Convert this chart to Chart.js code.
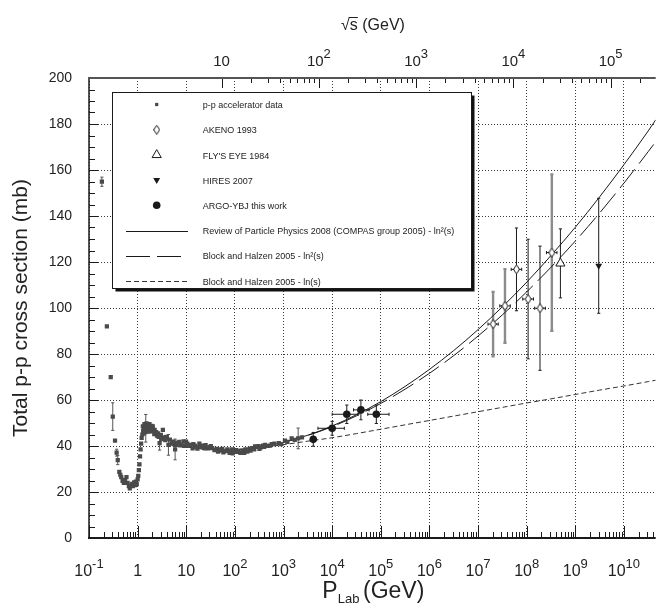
<!DOCTYPE html>
<html>
<head>
<meta charset="utf-8">
<script src="https://cdn.jsdelivr.net/npm/chart.js@4.4.1/dist/chart.umd.min.js"></script>
<style>
  html, body { margin: 0; padding: 0; background: #fff; }
  #wrap { width: 662px; height: 615px; }
</style>
</head>
<body>
<div id="wrap"><canvas id="xsec" width="662" height="615"></canvas></div>
<script>
const FONT = "'Liberation Sans', Arial, Helvetica, sans-serif";
const PROTON_MASS = 0.938;
const P_MAX = 4.5e10;

// bottom axis (P_Lab) decades and their labels [base, exponent]
const labDecades = [0.1, 1, 10, 1e2, 1e3, 1e4, 1e5, 1e6, 1e7, 1e8, 1e9, 1e10];
const labTickText = [["10", "-1"], ["1", ""], ["10", ""], ["10", "2"], ["10", "3"], ["10", "4"],
  ["10", "5"], ["10", "6"], ["10", "7"], ["10", "8"], ["10", "9"], ["10", "10"]];
// top axis (sqrt s) decades
const rootSDecades = [10, 1e2, 1e3, 1e4, 1e5];
const rootSTickText = [["10", ""], ["10", "2"], ["10", "3"], ["10", "4"], ["10", "5"]];

// p-p accelerator data [P_Lab GeV, sigma mb]
const accPoints = [
  [0.233, 92.0], [0.280, 69.9], [0.343, 42.3], [0.42, 28.8], [0.44, 27.5], [0.46, 26.5], [0.49, 24.8],
  [0.52, 24.0], [0.55, 25.3], [0.59, 26.5], [0.62, 24.0], [0.66, 22.5], [0.69, 21.6], [0.72, 22.8],
  [0.76, 23.5], [0.80, 22.6], [0.85, 24.2], [0.88, 23.0], [0.92, 24.5], [0.96, 23.4], [1.00, 25.5],
  [1.03, 27.0], [1.06, 29.5], [1.09, 32.0], [1.12, 35.5], [1.15, 38.5], [1.18, 41.0], [1.21, 43.5],
  [1.25, 45.0], [1.28, 48.5], [1.30, 46.5], [1.33, 45.5], [1.35, 47.5], [1.38, 49.5], [1.40, 48.0],
  [1.45, 46.0], [1.50, 48.5], [1.52, 49.8], [1.55, 47.0], [1.60, 48.2], [1.65, 46.2], [1.70, 47.5],
  [1.75, 49.5], [1.80, 48.0], [1.85, 46.4], [1.92, 48.7], [1.95, 47.5], [2.00, 47.0], [2.05, 48.5],
  [2.10, 46.5], [2.20, 45.2], [2.24, 47.0], [2.40, 46.0], [2.50, 44.5], [2.62, 45.5], [2.70, 44.0],
  [3.0, 44.8], [3.1, 43.0], [3.3, 47.0], [3.5, 43.8], [3.7, 42.5], [3.9, 44.0], [4.0, 43.2],
  [4.6, 42.8], [5.0, 41.0], [5.3, 41.9], [5.6, 40.8], [6.2, 40.5], [6.5, 41.5], [7.2, 41.8],
  [7.5, 40.3], [8.0, 40.6], [8.8, 42.0], [9.0, 40.0], [9.9, 41.9], [10.5, 41.0], [11, 40.0],
  [12, 40.5], [13.5, 39.0], [14, 40.8], [15, 40.2], [16.5, 39.5], [17, 38.9], [18.6, 41.0],
  [20, 39.6], [22, 40.2], [24, 39.0], [25, 40.4], [28, 39.0], [30, 39.5], [32, 40.0], [34, 39.1],
  [38, 38.2], [42, 38.8], [45, 37.5], [47, 38.5], [52, 38.0], [55, 38.8], [58, 37.2], [64, 37.8],
  [70, 38.5], [75, 37.9], [78, 37.0], [87, 38.5], [90, 36.8], [95, 37.4], [105, 38.2], [110, 37.4],
  [119, 37.8], [130, 37.0], [145, 38.0], [155, 37.0], [165, 38.5], [180, 37.6], [200, 38.8],
  [210, 38.0], [224, 39.1], [250, 38.5], [260, 39.8], [280, 39.6], [307, 39.9], [320, 38.8],
  [340, 39.4], [380, 40.2], [400, 39.6], [420, 40.5], [480, 40.0], [530, 40.2], [573, 40.8],
  [650, 41.0], [800, 41.3], [900, 40.8], [1070, 42.3], [1200, 41.8], [1470, 43.3], [1700, 42.7],
  [2400, 43.8]
];
// accelerator points with error bars [P_Lab, sigma, error]
const accErrPoints = [
  [0.184, 154.9, 2.0], [0.308, 52.8, 6.0], [0.370, 37.1, 1.5], [0.390, 33.9, 2.0], [1.47, 47.7, 6.0],
  [2.83, 41.2, 3.0], [4.3, 40.5, 4.5], [5.9, 38.5, 4.5], [2000, 43.3, 4.5]
];

// ARGO-YBJ
const argoP = [4090, 1.0e4, 2.0e4, 3.9e4, 8.1e4];
const argoSigma = [42.9, 47.7, 53.8, 55.7, 53.8];
const argoErr = [3.0, 3.0, 4.0, 4.3, 4.0];
const argoPLow = [null, 5.1e3, 1.0e4, 2.75e4, 5.4e4];
const argoPHigh = [null, 1.78e4, 3.4e4, 5.75e4, 1.48e5];

// AKENO 1993
const akenoP = [2.04e7, 3.58e7, 6.17e7, 1.07e8, 1.88e8, 3.29e8];
const akenoSigma = [93.0, 100.9, 116.8, 103.9, 99.9, 124.1];
const akenoErr = [14, 16, 18, 26, 27, 34];
const akenoPLow = [1.6e7, 2.8e7, 4.8e7, 8.3e7, 1.46e8, 2.55e8];
const akenoPHigh = [2.6e7, 4.6e7, 7.9e7, 1.38e8, 2.42e8, 4.2e8];

// FLY'S EYE 1984
const flyP = [4.94e8];
const flySigma = [119.4];
const flyErr = [15];

// HIRES 2007
const hiresP = [3.03e9];
const hiresSigma = [118.4];
const hiresErrUp = [29.3];
const hiresErrDown = [20.7];

// fitted curves, sampled every half decade of P_Lab
const curveP = [1e1, 3.16e1, 1e2, 3.16e2, 1e3, 3.16e3, 1e4, 3.16e4, 1e5, 3.16e5, 1e6, 3.16e6,
  1e7, 3.16e7, 1e8, 3.16e8, 1e9, 3.16e9, 1e10, 3.16e10, 4.5e10];
const compasSigma = [39.7, 38.5, 38.5, 39.5, 41.6, 44.7, 48.7, 53.6, 59.3, 65.9, 73.3, 81.5,
  90.6, 100.5, 111.2, 122.8, 135.1, 148.3, 162.3, 177.0, 181.8];
const bhSquareSigma = [39.7, 38.5, 38.5, 39.6, 41.6, 44.6, 48.4, 53.1, 58.5, 64.7, 71.6, 79.3,
  87.8, 97.0, 107.0, 117.7, 129.1, 141.3, 154.3, 168.0, 172.3];
const bhLinearSigma = [39.7, 38.5, 38.4, 39.2, 40.6, 42.1, 43.6, 45.4, 47.3, 49.2, 51.1, 53.0,
  54.9, 56.8, 58.7, 60.5, 62.4, 64.3, 66.1, 68.0, 68.6];

// error bar colours per AKENO point (grey thick / black thin)
const akenoBarStyle = ['grey', 'grey', 'black', 'black', 'black', 'grey'];

const INK = '#1a1a1a';
const BAR_STYLES = {
  grey: { color: '#8c8c8c', width: 2.4 },
  black: { color: '#1a1a1a', width: 1 }
};

function makeDiamond() {
  const c = document.createElement('canvas');
  c.width = 7; c.height = 10;
  const g = c.getContext('2d');
  g.beginPath();
  g.moveTo(3.5, 0.5); g.lineTo(6.5, 5); g.lineTo(3.5, 9.5); g.lineTo(0.5, 5); g.closePath();
  g.fillStyle = '#fff'; g.fill();
  g.strokeStyle = INK; g.lineWidth = 1; g.stroke();
  return c;
}
const diamond = makeDiamond();

const accAll = accPoints.map(p => ({ x: p[0], y: p[1] }))
  .concat(accErrPoints.map(p => ({ x: p[0], y: p[1] })));
const accBars = accPoints.map(() => null)
  .concat(accErrPoints.map(p => ({ up: p[2], down: p[2], color: '#555', width: 1 })));

const curve = ys => curveP.map((p, i) => ({ x: p, y: ys[i] }));

const datasets = [
  {
    label: 'ARGO-YBJ this work',
    data: argoP.map((p, i) => ({ x: p, y: argoSigma[i] })),
    bars: argoP.map((p, i) => ({ up: argoErr[i], down: argoErr[i], xLow: argoPLow[i], xHigh: argoPHigh[i], color: INK, width: 1 })),
    pointStyle: 'circle', pointRadius: 3.8, backgroundColor: INK, borderColor: INK, borderWidth: 0, order: 0
  },
  {
    label: 'AKENO 1993',
    data: akenoP.map((p, i) => ({ x: p, y: akenoSigma[i] })),
    bars: akenoP.map((p, i) => Object.assign({ up: akenoErr[i], down: akenoErr[i], xLow: akenoPLow[i], xHigh: akenoPHigh[i] }, BAR_STYLES[akenoBarStyle[i]])),
    pointStyle: diamond, pointRadius: 4, order: 0
  },
  {
    label: "FLY'S EYE 1984",
    data: flyP.map((p, i) => ({ x: p, y: flySigma[i] })),
    bars: flyP.map((p, i) => ({ up: flyErr[i], down: flyErr[i], color: INK, width: 1 })),
    pointStyle: 'triangle', pointRadius: 5.3, backgroundColor: '#fff', borderColor: INK, borderWidth: 1, order: 0
  },
  {
    label: 'HIRES 2007',
    data: hiresP.map((p, i) => ({ x: p, y: hiresSigma[i] })),
    bars: hiresP.map((p, i) => ({ up: hiresErrUp[i], down: hiresErrDown[i], color: INK, width: 1 })),
    pointStyle: 'triangle', rotation: 180, pointRadius: 4, backgroundColor: INK, borderColor: INK, borderWidth: 0, order: 0
  },
  {
    label: 'p-p accelerator data',
    data: accAll, bars: accBars,
    pointStyle: 'rect', pointRadius: 3, backgroundColor: '#4a4a4a', borderWidth: 0, order: 1
  },
  {
    label: 'Review of Particle Physics 2008 (COMPAS group 2005) - ln²(s)',
    data: curve(compasSigma), showLine: true, pointRadius: 0, borderColor: INK, borderWidth: 1,
    cubicInterpolationMode: 'monotone', order: 2
  },
  {
    label: 'Block and Halzen 2005 - ln²(s)',
    data: curve(bhSquareSigma), showLine: true, pointRadius: 0, borderColor: INK, borderWidth: 1,
    borderDash: [24, 7], cubicInterpolationMode: 'monotone', order: 2
  },
  {
    label: 'Block and Halzen 2005 - ln(s)',
    data: curve(bhLinearSigma), showLine: true, pointRadius: 0, borderColor: '#333', borderWidth: 1,
    borderDash: [5, 3], cubicInterpolationMode: 'monotone', order: 2
  }
];

// vertical/horizontal error bars, drawn under the markers
const errorBars = {
  id: 'errorBars',
  beforeDatasetsDraw(chart) {
    const { ctx } = chart;
    const xs = chart.scales.x, ys = chart.scales.y;
    ctx.save();
    chart.data.datasets.forEach(ds => {
      if (!ds.bars) return;
      ds.data.forEach((pt, i) => {
        const b = ds.bars[i];
        if (!b) return;
        const px = xs.getPixelForValue(pt.x), py = ys.getPixelForValue(pt.y);
        ctx.strokeStyle = b.color;
        ctx.lineWidth = b.width;
        ctx.beginPath();
        if (b.up || b.down) {
          const yt = ys.getPixelForValue(pt.y + b.up), yb = ys.getPixelForValue(pt.y - b.down);
          ctx.moveTo(px, yt); ctx.lineTo(px, yb);
          ctx.moveTo(px - 1.6, yt); ctx.lineTo(px + 1.6, yt);
          ctx.moveTo(px - 1.6, yb); ctx.lineTo(px + 1.6, yb);
        }
        ctx.stroke();
        if (b.xLow) {
          const xl = xs.getPixelForValue(b.xLow), xr = xs.getPixelForValue(b.xHigh);
          ctx.strokeStyle = INK; ctx.lineWidth = 1;
          ctx.beginPath();
          ctx.moveTo(xl, py); ctx.lineTo(xr, py);
          ctx.moveTo(xl, py - 1.6); ctx.lineTo(xl, py + 1.6);
          ctx.moveTo(xr, py - 1.6); ctx.lineTo(xr, py + 1.6);
          ctx.stroke();
        }
      });
    });
    ctx.restore();
  }
};

function drawPower(ctx, base, exp, cx, baseline, size, expSize, raise) {
  ctx.font = size + 'px ' + FONT;
  const wb = ctx.measureText(base).width;
  ctx.font = expSize + 'px ' + FONT;
  const we = exp ? ctx.measureText(exp).width : 0;
  const x0 = cx - (wb + we) / 2;
  ctx.textAlign = 'left';
  ctx.textBaseline = 'alphabetic';
  ctx.font = size + 'px ' + FONT;
  ctx.fillText(base, x0, baseline);
  if (exp) {
    ctx.font = expSize + 'px ' + FONT;
    ctx.fillText(exp, x0 + wb, baseline - raise);
  }
}

// axis lines, inward ticks, power-of-ten labels and titles
const frame = {
  id: 'frame',
  afterDatasetsDraw(chart) {
    const { ctx, chartArea: a } = chart;
    const xs = chart.scales.x, x2 = chart.scales.x2, ys = chart.scales.y;
    ctx.save();
    ctx.strokeStyle = INK;

    ctx.lineWidth = 1;
    ctx.beginPath();
    for (let v = 0; v <= 200; v += 5) {
      const y = Math.round(ys.getPixelForValue(v)) + 0.5;
      const len = v % 20 === 0 ? 9 : 6;
      ctx.moveTo(a.left, y); ctx.lineTo(a.left + len, y);
    }
    for (let k = -1; k <= 10; k++) {
      for (let m = 1; m <= 9; m++) {
        const v = m * Math.pow(10, k);
        if (v > xs.max) continue;
        const x = Math.round(xs.getPixelForValue(v)) + 0.5;
        ctx.moveTo(x, a.bottom); ctx.lineTo(x, a.bottom - (m === 1 ? 12 : 6));
      }
    }
    for (let k = 1; k <= 5; k++) {
      for (let m = 1; m <= 9; m++) {
        const v = m * Math.pow(10, k);
        if (v > x2.max) continue;
        const x = Math.round(x2.getPixelForValue(v)) + 0.5;
        ctx.moveTo(x, a.top); ctx.lineTo(x, a.top + (m === 1 ? 10 : 5));
      }
    }
    ctx.stroke();

    ctx.lineWidth = 1.5;
    ctx.beginPath(); ctx.moveTo(a.left, a.top); ctx.lineTo(a.left, a.bottom); ctx.stroke();
    ctx.lineWidth = 2;
    ctx.beginPath(); ctx.moveTo(a.left - 1, a.bottom); ctx.lineTo(a.right, a.bottom); ctx.stroke();
    ctx.strokeStyle = '#555';
    ctx.beginPath(); ctx.moveTo(a.left - 1, a.top); ctx.lineTo(a.right, a.top); ctx.stroke();

    ctx.fillStyle = '#222';
    labDecades.forEach((v, i) => {
      drawPower(ctx, labTickText[i][0], labTickText[i][1], xs.getPixelForValue(v), 576, 16, 13, 8);
    });
    rootSDecades.forEach((v, i) => {
      drawPower(ctx, rootSTickText[i][0], rootSTickText[i][1], x2.getPixelForValue(v), 66, 15, 13, 8);
    });

    // bottom title: P_Lab (GeV)
    ctx.textBaseline = 'alphabetic';
    ctx.textAlign = 'left';
    ctx.font = '23px ' + FONT;
    const wP = ctx.measureText('P').width, wG = ctx.measureText('(GeV)').width;
    ctx.font = '13px ' + FONT;
    const wL = ctx.measureText('Lab ').width;
    let x0 = (a.left + a.right) / 2 - (wP + wL + wG) / 2 + 1;
    ctx.font = '23px ' + FONT;
    ctx.fillText('P', x0, 598);
    ctx.font = '13px ' + FONT;
    ctx.fillText('Lab', x0 + wP, 603);
    ctx.font = '23px ' + FONT;
    ctx.fillText('(GeV)', x0 + wP + wL, 598);

    // top title: sqrt(s) (GeV)
    ctx.font = '16px ' + FONT;
    const wr = ctx.measureText('√').width, ws = ctx.measureText('s').width;
    const wRest = ctx.measureText('s (GeV)').width;
    x0 = 373 - (wr + wRest) / 2;
    ctx.fillText('√', x0, 30);
    ctx.fillText('s (GeV)', x0 + wr, 30);
    const rTop = 30 - ctx.measureText('√').actualBoundingBoxAscent;
    ctx.strokeStyle = '#222'; ctx.lineWidth = 1;
    ctx.beginPath(); ctx.moveTo(x0 + wr - 1, rTop + 0.5); ctx.lineTo(x0 + wr + ws, rTop + 0.5); ctx.stroke();

    // y title
    ctx.save();
    ctx.translate(27, (a.top + a.bottom) / 2);
    ctx.rotate(-Math.PI / 2);
    ctx.textAlign = 'center';
    ctx.font = '21px ' + FONT;
    ctx.fillText('Total p-p cross section (mb)', 0, 0);
    ctx.restore();
    ctx.restore();
  }
};

// boxed key with drop shadow
const keyBox = {
  id: 'keyBox',
  afterDraw(chart) {
    const { ctx } = chart;
    const L = 112.5, T = 92.5, W = 359, H = 196;
    ctx.save();
    ctx.fillStyle = '#111';
    ctx.fillRect(L + 3, T + 3, W, H);
    ctx.fillStyle = '#fff';
    ctx.fillRect(L, T, W, H);
    ctx.strokeStyle = INK; ctx.lineWidth = 1;
    ctx.strokeRect(L, T, W, H);

    const order = [4, 1, 2, 3, 0, 5, 6, 7];
    order.forEach((di, row) => {
      const ds = chart.data.datasets[di];
      const y = 104.5 + row * 25.2;
      if (ds.showLine) {
        ctx.strokeStyle = ds.borderColor; ctx.lineWidth = 1;
        ctx.setLineDash(ds.borderDash || []);
        ctx.beginPath(); ctx.moveTo(126, Math.round(y) + 0.5); ctx.lineTo(188, Math.round(y) + 0.5); ctx.stroke();
        ctx.setLineDash([]);
      } else {
        ctx.fillStyle = ds.backgroundColor || '#fff';
        ctx.strokeStyle = ds.borderColor || INK;
        Chart.helpers.drawPoint(ctx, {
          pointStyle: ds.pointStyle,
          radius: di === 4 ? 2.3 : ds.pointRadius,
          rotation: ds.rotation || 0,
          borderWidth: ds.borderWidth === undefined ? 1 : ds.borderWidth
        }, 156.7, y);
      }
      ctx.fillStyle = '#222';
      ctx.font = '9px ' + FONT;
      ctx.textAlign = 'left';
      ctx.textBaseline = 'alphabetic';
      ctx.fillText(ds.label, 202.7, y + 3.6);
    });
    ctx.restore();
  }
};

Chart.defaults.font.family = FONT;

new Chart(document.getElementById('xsec'), {
  type: 'scatter',
  data: { datasets },
  options: {
    responsive: false,
    animation: false,
    devicePixelRatio: 1,
    events: [],
    layout: { padding: 0 },
    plugins: { legend: { display: false }, tooltip: { enabled: false } },
    scales: {
      x: {
        type: 'logarithmic', position: 'bottom', min: 0.1, max: P_MAX,
        afterBuildTicks: s => { s.ticks = labDecades.map(v => ({ value: v })); },
        afterFit: s => { s.height = 77; },
        ticks: { display: false },
        grid: { color: '#3a3a3a', lineWidth: 1, drawTicks: false },
        border: { display: false, dash: [1, 2] }
      },
      x2: {
        type: 'logarithmic', position: 'top',
        min: Math.sqrt(2 * PROTON_MASS * 0.1), max: Math.sqrt(2 * PROTON_MASS * P_MAX),
        afterFit: s => { s.height = 78; },
        ticks: { display: false },
        grid: { display: false },
        border: { display: false }
      },
      y: {
        min: 0, max: 200,
        afterFit: s => { s.width = 89; },
        ticks: { stepSize: 20, color: '#222', font: { size: 14 }, padding: 17 },
        grid: { color: '#3a3a3a', lineWidth: 1, drawTicks: false },
        border: { display: false, dash: [1, 2] }
      }
    }
  },
  plugins: [errorBars, frame, keyBox]
});
</script>
</body>
</html>
